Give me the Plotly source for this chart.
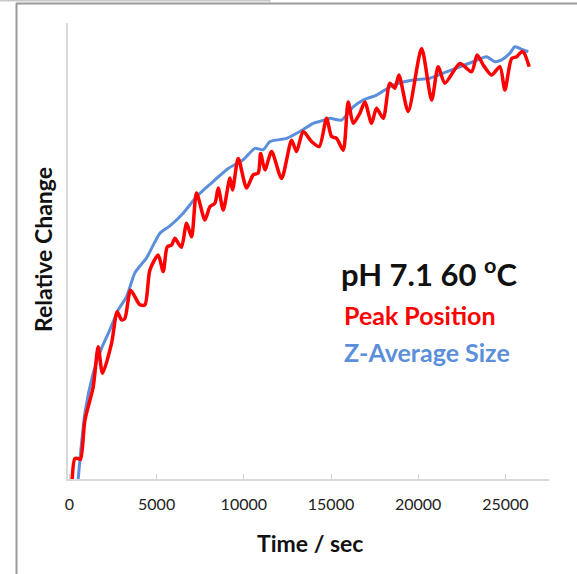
import plotly.graph_objects as go

# Z-Average Size (blue)
blue_t = [505, 890, 1365, 1845, 2320, 2800, 3280, 3755, 4425, 5190, 5760, 6525, 7290, 8055,
          9105, 9965, 10635, 11115, 11500, 12455, 13215, 13980, 14350, 14935, 15605, 16275,
          16845, 17610, 18565, 19710, 20670, 21625, 22390, 23155, 23920, 24400, 24780, 25260,
          25545, 26020, 26310]
blue_v = [0.0, 0.145, 0.232, 0.287, 0.327, 0.371, 0.400, 0.452, 0.485, 0.539, 0.555, 0.583, 0.619, 0.646,
          0.681, 0.700, 0.725, 0.722, 0.740, 0.747, 0.762, 0.780, 0.784, 0.791, 0.787, 0.816,
          0.831, 0.842, 0.864, 0.875, 0.879, 0.893, 0.904, 0.915, 0.926, 0.915, 0.919, 0.934,
          0.948, 0.941, 0.937]

# Peak Position (red)
red_t = [160, 315, 505, 640, 890, 1365, 1650, 1900, 2420, 2740, 2990, 3180, 3510, 4040, 4330,
         4615, 5090, 5380, 5610, 5860, 6050, 6240, 6430, 6720, 7005, 7290, 7770, 8055, 8345,
         8535, 8820, 9205, 9355, 9680, 10160, 10540, 10825, 10965, 11210, 11595, 12165, 12740,
         13025, 13405, 13885, 14325, 14745, 15035, 15320, 15700, 15985, 16275, 16655, 16940,
         17325, 17610, 17995, 18375, 18660, 18895, 19425, 20195, 20770, 21145, 21530, 22390,
         23060, 23380, 23730, 24210, 24685, 24970, 25355, 25640, 25930, 26060, 26365]
red_v = [0.0, 0.045, 0.045, 0.043, 0.129, 0.202, 0.290, 0.232, 0.298, 0.367, 0.349, 0.352, 0.414, 0.382, 0.382,
         0.458, 0.491, 0.455, 0.509, 0.513, 0.528, 0.517, 0.508, 0.561, 0.531, 0.627, 0.568, 0.597, 0.605,
         0.638, 0.590, 0.660, 0.634, 0.703, 0.638, 0.667, 0.671, 0.714, 0.678, 0.718, 0.659, 0.743,
         0.718, 0.762, 0.740, 0.729, 0.791, 0.751, 0.747, 0.721, 0.827, 0.780, 0.802, 0.827,
         0.780, 0.813, 0.791, 0.868, 0.857, 0.886, 0.806, 0.944, 0.831, 0.904, 0.868, 0.911,
         0.893, 0.930, 0.908, 0.886, 0.904, 0.853, 0.922, 0.926, 0.937, 0.935, 0.904]

x_ticks = [0, 5000, 10000, 15000, 20000, 25000]

FONT = "Lato, 'Open Sans', sans-serif"

fig = go.Figure()
fig.add_trace(go.Scatter(x=blue_t, y=blue_v, mode="lines", name="Z-Average Size",
                         line=dict(color="#5B8FDB", width=3, shape="spline", smoothing=0.6)))
fig.add_trace(go.Scatter(x=red_t, y=red_v, mode="lines", name="Peak Position",
                         line=dict(color="#FF0000", width=3.5, shape="spline", smoothing=0.7)))

W, H = 577, 574
L, R, T, B = 68, 28, 23, 95
pw, ph = W - L - R, H - T - B

def px(x):
    return (x - L) / pw

def py(y):
    return (H - B - y) / ph

fig.update_layout(
    width=W, height=H,
    margin=dict(l=L, r=R, t=T, b=B, autoexpand=False),
    paper_bgcolor="white", plot_bgcolor="white",
    showlegend=False,
    font=dict(family=FONT, color="#222222"),
    xaxis=dict(range=[-80, 27500], tickvals=x_ticks, ticktext=[str(v) for v in x_ticks],
               showgrid=False, zeroline=False, showline=True, linecolor="#d9d9d9", linewidth=2,
               ticks="inside", ticklen=5, tickcolor="#d0d0d0", tickwidth=1,
               ticklabelstandoff=10,
               tickfont=dict(size=16, family=FONT, color="#222222"),
               automargin=False),
    yaxis=dict(range=[0, 1], showticklabels=False, showgrid=False, zeroline=False,
               showline=True, linecolor="#d9d9d9", linewidth=2, ticks="", automargin=False),
)

# axis titles as annotations for exact placement
fig.add_annotation(xref="paper", yref="paper", x=px(310), y=py(543), xanchor="center", yanchor="middle",
                   text="<b>Time / sec</b>", showarrow=False,
                   font=dict(size=23, family=FONT, color="#111111"))
fig.add_annotation(xref="paper", yref="paper", x=px(43), y=py(250), xanchor="center", yanchor="middle",
                   text="<b>Relative Change</b>", showarrow=False, textangle=-90,
                   font=dict(size=23, family=FONT, color="#111111"))

fig.add_annotation(xref="paper", yref="paper", x=px(339), y=py(272), xanchor="left", yanchor="middle",
                   text="<b>pH 7.1 60 <sup>o</sup>C</b>", showarrow=False,
                   font=dict(size=31, family=FONT, color="#111111"))
fig.add_annotation(xref="paper", yref="paper", x=px(342), y=py(315), xanchor="left", yanchor="middle",
                   text="<b>Peak Position</b>", showarrow=False,
                   font=dict(size=25, family=FONT, color="#FF0000"))
fig.add_annotation(xref="paper", yref="paper", x=px(342), y=py(352), xanchor="left", yanchor="middle",
                   text="<b>Z-Average Size</b>", showarrow=False,
                   font=dict(size=25, family=FONT, color="#5B8FDB"))

# screenshot frame lines
fig.add_shape(type="line", xref="paper", yref="paper", x0=px(16.5), x1=px(16.5), y0=py(3), y1=py(574),
              line=dict(color="#9a9a9a", width=2))
fig.add_shape(type="line", xref="paper", yref="paper", x0=px(16), x1=px(577), y0=py(3.5), y1=py(3.5),
              line=dict(color="#9a9a9a", width=2))
fig.add_shape(type="line", xref="paper", yref="paper", x0=px(0), x1=px(270), y0=py(0.5), y1=py(0.5),
              line=dict(color="#c8c8c8", width=2))
fig.add_shape(type="line", xref="paper", yref="paper", x0=px(270), x1=px(270), y0=py(0), y1=py(3),
              line=dict(color="#c8c8c8", width=1))

fig.write_html("out.html", config={"displayModeBar": False},
               post_script="document.body.style.margin='0';document.body.style.padding='0';")
